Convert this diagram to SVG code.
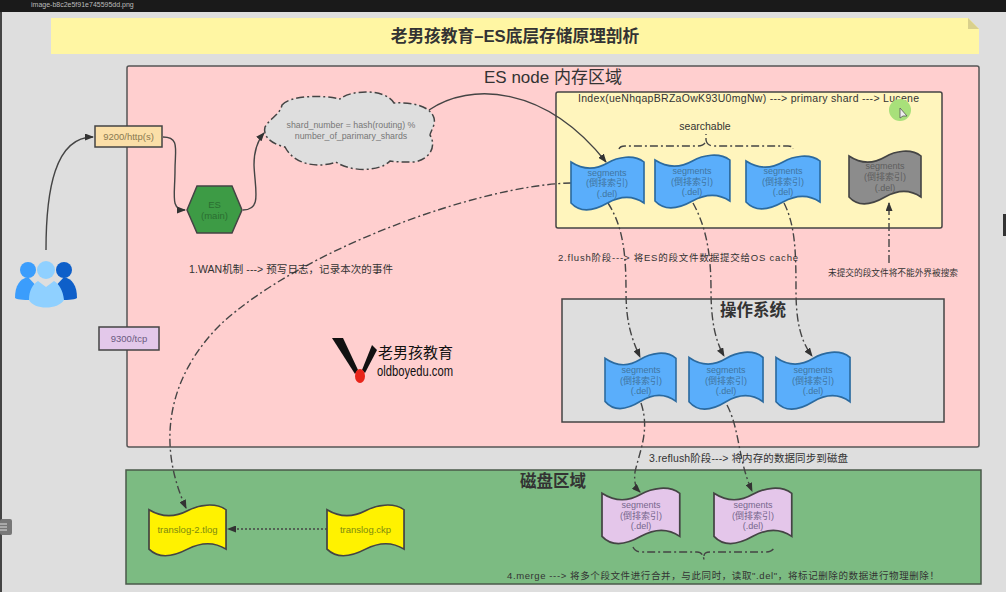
<svg xmlns="http://www.w3.org/2000/svg" width="1006" height="592" viewBox="0 0 1006 592">
<style>
text{font-family:"Liberation Sans","Noto Sans CJK SC",sans-serif;fill:#333}
.c{text-anchor:middle}
.s{font-size:9.5px}
.m{font-size:9px}
.l{font-size:10.5px}
.seg{stroke-width:1.6}
.blue{fill:#5aaefb;stroke:#2b6a9f}
.gray{fill:#8c8c8c;stroke:#444}
.pur{fill:#e4c6ea;stroke:#444}
.yel{fill:#fff200;stroke:#444}
.bt text{fill:#41759f}
.gt text{fill:#5e5e5e}
.pt text{fill:#76668c}
.yt text{fill:#7d8a10}
.con path{fill:none;stroke:#444;stroke-width:1.4}
.dd{stroke-dasharray:8 3 2 3}
</style>
<defs>
<path id="wave" d="M0,6 C12,14 24,14 36,7 C46,1 62,-2 72,6 L72,47 C62,40 50,39 36,47 C24,54 10,58 0,47 Z"/>
<marker id="ah" markerWidth="9" markerHeight="7" refX="8" refY="3.5" orient="auto" markerUnits="userSpaceOnUse"><path d="M0,0 L9,3.5 L0,7 Z" fill="#333"/></marker>
</defs>

<rect width="1006" height="592" fill="#dedede"/>
<rect width="1006" height="12" fill="#1a1a1a"/>
<rect x="0" y="12" width="2" height="580" fill="#444"/>
<rect x="1003" y="214" width="3" height="22" fill="#333"/>
<g id="side-handle">
<rect x="0" y="519" width="12" height="16" rx="2" fill="#777"/>
<path d="M0,524 H7 M0,527 H7 M0,530 H7" stroke="#ddd" stroke-width="1"/>
</g>
<text x="31" y="7" font-size="7" style="fill:#bbb">image-b8c2e5f91e745595dd.png</text>

<g id="title">
<path d="M51,18 H968 L979,29 V54 H51 Z" fill="#fff6a3"/>
<path d="M968,18 L979,29 H968 Z" fill="#d9d08c"/>
<text x="515" y="42" class="c" font-size="16.700" font-weight="bold">老男孩教育–ES底层存储原理剖析</text>
</g>

<g id="memory-area">
<rect x="127" y="66" width="852" height="381" rx="2" fill="#ffcfcf" stroke="#555" stroke-width="1.5"/>
<text x="553" y="83" class="c" font-size="17">ES node 内存区域</text>
</g>
<g id="disk-area">
<rect x="126" y="470" width="855" height="114" fill="#7cbb82" stroke="#4a5a4a" stroke-width="1.5"/>
<text x="553" y="487" class="c" font-size="16.500" font-weight="bold">磁盘区域</text>
</g>
<g id="lucene-area">
<rect x="556" y="92" width="386" height="136" rx="2" fill="#fff5bd" stroke="#444" stroke-width="1.5"/>
<text x="578" y="102" class="l" textLength="341" lengthAdjust="spacing">Index(ueNhqapBRZaOwK93U0mgNw) ---&gt; primary shard ---&gt; Lucene</text>
<text x="705" y="130" class="c l">searchable</text>
</g>
<g id="os-area">
<rect x="562" y="299" width="382" height="123" fill="#dedede" stroke="#444" stroke-width="1.5"/>
<text x="753" y="316" class="c" font-size="16.500" font-weight="bold">操作系统</text>
</g>

<g id="cursor">
<circle cx="900" cy="110" r="11" fill="#a8e07a"/>
<path d="M900,108 L900,118 L903,116 L907,116 Z" fill="#eee" stroke="#555" stroke-width="0.8"/>
</g>

<g id="connectors" class="con">
<path d="M46,250 C46,190 55,137 93,137" marker-end="url(#ah)"/>
<path d="M163,137 C180,137 175,150 175,170 C175,195 170,210 185,210" marker-end="url(#ah)"/>
<path d="M243,210 C262,210 255,190 254,165 C254,150 258,140 264,133" marker-end="url(#ah)"/>
<path d="M429,110 C470,82 545,85 606,162" marker-end="url(#ah)"/>
<path class="dd" d="M571,183 C480,185 300,250 220,325 C170,375 155,440 186,508" marker-end="url(#ah)"/>
<path class="dd" d="M608,203 C622,225 626,250 626,290 C626,320 630,335 640,357" marker-end="url(#ah)"/>
<path class="dd" d="M693,203 C705,225 711,250 711,290 C711,320 715,340 724,356" marker-end="url(#ah)"/>
<path class="dd" d="M784,203 C795,225 796,250 796,290 C796,320 800,340 812,356" marker-end="url(#ah)"/>
<path class="dd" d="M641,403 C650,430 640,450 635,472 C634,482 635,487 640,492" marker-end="url(#ah)"/>
<path class="dd" d="M727,405 C740,430 738,460 752,491" marker-end="url(#ah)"/>
<path class="dd" d="M889,263 V203" marker-end="url(#ah)"/>
<path stroke-dasharray="2 2" d="M327,529 H228" marker-end="url(#ah)"/>
<path class="dd" d="M619,149 Q620,146 625,146 L698,146 Q705,146 706,140 L706,134 M706,140 Q707,146 714,146 L788,146 Q793,146 793,149"/>
<path class="dd" d="M633,547 Q635,552 642,552 L697,552 Q703,552 704,560 M704,556 Q704,552 710,552 L765,552 Q772,552 774,548"/>
</g>

<g id="users">
<circle cx="28" cy="270" r="8" fill="#3b9dfc"/>
<circle cx="64" cy="270" r="8" fill="#0e5fc9"/>
<path d="M15,298 C15,285 20,279 28,277 L40,290 L34,300 C26,300 18,300 15,298 Z" fill="#3b9dfc"/>
<path d="M77,298 C77,285 72,279 64,277 L52,290 L58,300 C66,300 74,300 77,298 Z" fill="#0e5fc9"/>
<circle cx="46" cy="270" r="9" fill="#8fd0ff"/>
<path d="M29,300 C29,290 33,284 38,281 L46,287 L54,281 C59,284 63,290 64,300 C58,310 34,310 29,300 Z" fill="#8fd0ff"/>
</g>

<g id="port-9200">
<rect x="95" y="126" width="67" height="21" fill="#fbdfa8" stroke="#444" stroke-width="1.5"/>
<text x="128.500" y="140" class="c s" style="fill:#8a7a50">9200/http(s)</text>
</g>
<g id="port-9300">
<rect x="99" y="327" width="60" height="23" fill="#e3c8ea" stroke="#444" stroke-width="1.5"/>
<text x="129" y="342" class="c s" style="fill:#6a5a80">9300/tcp</text>
</g>
<g id="es-main">
<path d="M187,210 L197,186 H232 L242,210 L232,233 H197 Z" fill="#3d9b45" stroke="#444" stroke-width="1.5"/>
<text x="214.500" y="208" class="c s" style="fill:#2b6e31">ES</text>
<text x="214.500" y="219" class="c s" style="fill:#2b6e31">(main)</text>
</g>
<g id="cloud">
<path class="dd" d="M282,105 C290,95 325,95 340,99 C350,90 385,88 394,103 C410,102 430,105 434,118 C436,125 430,132 430,135 C436,145 432,158 415,162 C405,162 395,162 390,161 C380,172 350,172 336,162 C320,168 295,166 285,147 C275,145 262,138 265,127 C270,118 280,115 282,105 Z" fill="#dedede" stroke="#444" stroke-width="1.5"/>
<text x="351" y="128" class="c" font-size="8.800" style="fill:#777">shard_number = hash(routing) %</text>
<text x="351" y="139" class="c" font-size="8.800" style="fill:#777">number_of_parimary_shards</text>
</g>

<g id="seg-mem-1" class="bt"><use href="#wave" class="seg blue" transform="translate(571,156) scale(1.014,1)"/><text x="607" y="176" class="c m">segments</text><text x="607" y="186" class="c m">(倒排索引)</text><text x="607" y="197" class="c m">(.del)</text></g>
<g id="seg-mem-2" class="bt"><use href="#wave" class="seg blue" transform="translate(655,154) scale(1.04,1)"/><text x="692" y="174" class="c m">segments</text><text x="692" y="185" class="c m">(倒排索引)</text><text x="692" y="195" class="c m">(.del)</text></g>
<g id="seg-mem-3" class="bt"><use href="#wave" class="seg blue" transform="translate(746,155) scale(1.028,1)"/><text x="783" y="174" class="c m">segments</text><text x="783" y="185" class="c m">(倒排索引)</text><text x="783" y="195" class="c m">(.del)</text></g>
<g id="seg-uncommitted" class="gt"><use href="#wave" class="seg gray" transform="translate(849,150)"/><text x="885" y="169" class="c m">segments</text><text x="885" y="180" class="c m">(倒排索引)</text><text x="885" y="191" class="c m">(.del)</text></g>

<g id="seg-os-1" class="bt"><use href="#wave" class="seg blue" transform="translate(605,352) scale(0.986,1.05)"/><text x="641" y="373" class="c m">segments</text><text x="641" y="384" class="c m">(倒排索引)</text><text x="641" y="394" class="c m">(.del)</text></g>
<g id="seg-os-2" class="bt"><use href="#wave" class="seg blue" transform="translate(689,351) scale(1.028,1.08)"/><text x="726" y="373" class="c m">segments</text><text x="726" y="384" class="c m">(倒排索引)</text><text x="726" y="394" class="c m">(.del)</text></g>
<g id="seg-os-3" class="bt"><use href="#wave" class="seg blue" transform="translate(776,351) scale(1.028,1.08)"/><text x="813" y="373" class="c m">segments</text><text x="813" y="384" class="c m">(倒排索引)</text><text x="813" y="394" class="c m">(.del)</text></g>

<g id="seg-disk-1" class="pt"><use href="#wave" class="seg pur" transform="translate(602,487) scale(1.08,1.05)"/><text x="641" y="508" class="c m">segments</text><text x="641" y="519" class="c m">(倒排索引)</text><text x="641" y="529" class="c m">(.del)</text></g>
<g id="seg-disk-2" class="pt"><use href="#wave" class="seg pur" transform="translate(714,487) scale(1.08,1.05)"/><text x="753" y="508" class="c m">segments</text><text x="753" y="519" class="c m">(倒排索引)</text><text x="753" y="529" class="c m">(.del)</text></g>

<g id="translog-2" class="yt"><use href="#wave" class="seg yel" transform="translate(149,504) scale(1.07,0.96)"/><text x="187.500" y="533" class="c s">translog-2.tlog</text></g>
<g id="translog-ckp" class="yt"><use href="#wave" class="seg yel" transform="translate(327,504) scale(1.07,0.96)"/><text x="365.500" y="533" class="c s">translog.ckp</text></g>

<g id="labels">
<text x="189" y="273" font-size="10.500" textLength="204" lengthAdjust="spacing">1.WAN机制 ---&gt;  预写日志，记录本次的事件</text>
<text x="558" y="261" class="s" textLength="240" lengthAdjust="spacing">2.flush阶段---&gt; 将ES的段文件数据提交给OS cache</text>
<text x="828" y="276" font-size="8.700" textLength="130" lengthAdjust="spacing">未提交的段文件将不能外界被搜索</text>
<text x="649" y="462" font-size="10.500" textLength="199" lengthAdjust="spacing">3.reflush阶段---&gt; 将内存的数据同步到磁盘</text>
<text x="507" y="579" class="s" textLength="432" lengthAdjust="spacing">4.merge ---&gt; 将多个段文件进行合并，与此同时，读取".del"，将标记删除的数据进行物理删除！</text>
</g>

<g id="logo">
<path d="M332,338 L343,338 L358,370 L355,374 Z" fill="#111"/>
<path d="M372,345 L377,350 L365,373 L362,370 Z" fill="#111"/>
<ellipse cx="360" cy="376" rx="5" ry="7" fill="#e8251a"/>
<text x="378" y="358" font-size="15" textLength="75" lengthAdjust="spacingAndGlyphs" style="fill:#111">老男孩教育</text>
<text x="377" y="376" font-size="14" textLength="76" lengthAdjust="spacingAndGlyphs" style="fill:#111">oldboyedu.com</text>
</g>
</svg>
